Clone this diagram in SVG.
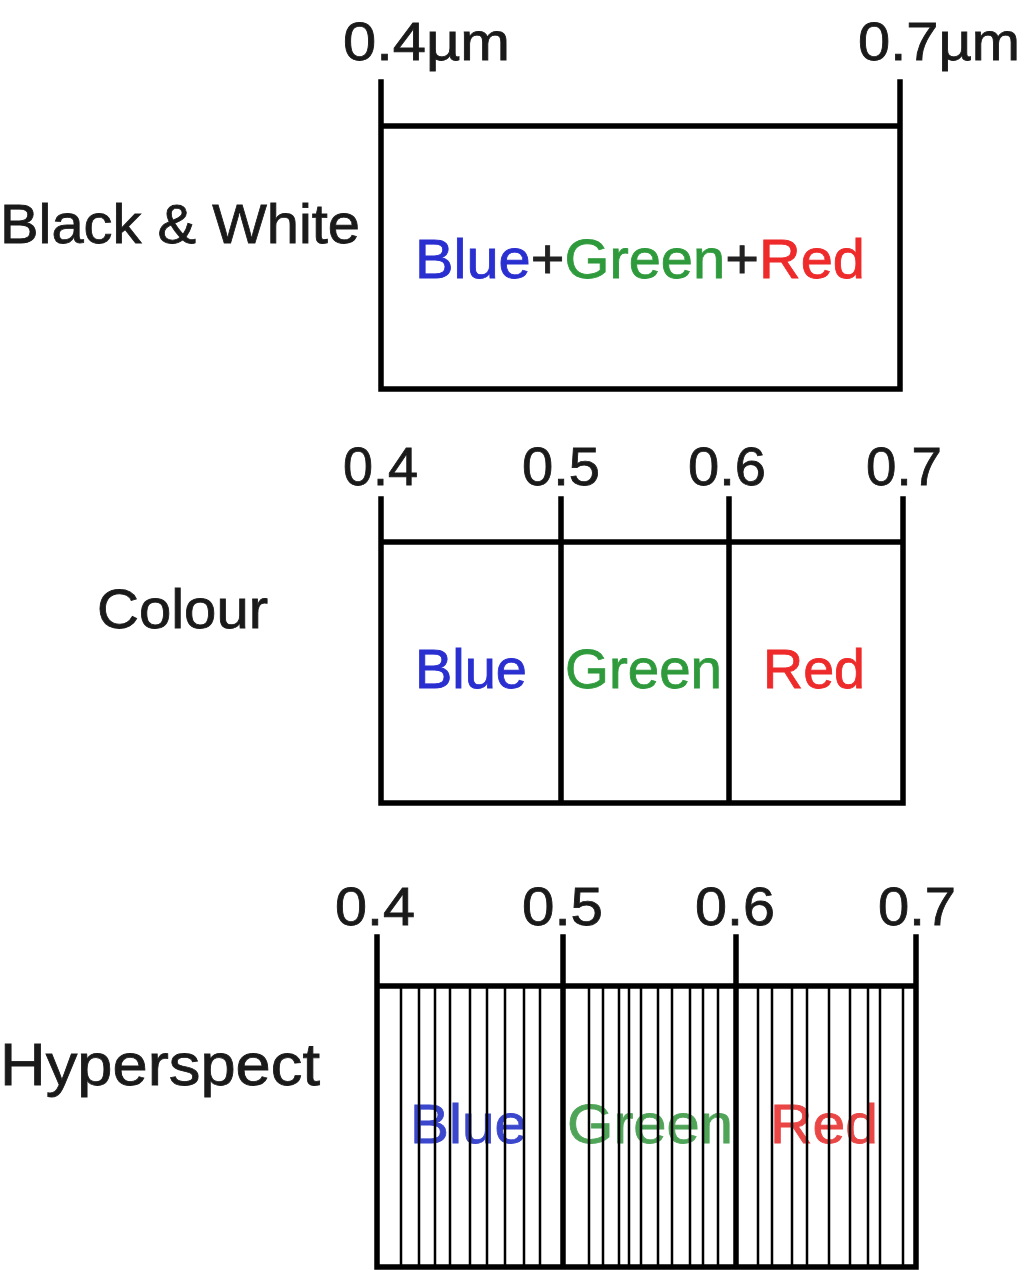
<svg xmlns="http://www.w3.org/2000/svg" width="1024" height="1270" viewBox="0 0 1024 1270">
<style>
text{font-family:"Liberation Sans",Arial,sans-serif;stroke-width:0.8;}
.lbl{font-size:55px;fill:#1a1a1a;stroke:#1a1a1a;}
.num{font-size:53px;fill:#1a1a1a;stroke:#1a1a1a;}
.b{fill:#2a2fd0;stroke:#2a2fd0;}
.g{fill:#2f9a3c;stroke:#2f9a3c;}
.r{fill:#ee2a2a;stroke:#ee2a2a;}
.p{fill:#222;stroke:#222;}
.thick{stroke:#000;stroke-width:5.5;fill:none;stroke-linecap:square;}
.thin{stroke:#000;stroke-width:2.5;fill:none;}
.band{font-size:55px;}
.hb{fill:#3b47cc;stroke:#3b47cc;}
.hg{fill:#4fa458;stroke:#4fa458;}
.hr{fill:#ea4646;stroke:#ea4646;}
</style>
<rect width="1024" height="1270" fill="#fff"/>

<g id="panel-bw">
  <text class="num" x="343" y="60" textLength="167" lengthAdjust="spacingAndGlyphs">0.4µm</text>
  <text class="num" x="858" y="60" textLength="162" lengthAdjust="spacingAndGlyphs">0.7µm</text>
  <text class="lbl" x="0" y="243" textLength="360" lengthAdjust="spacingAndGlyphs">Black &amp; White</text>
  <text class="band" x="415" y="278" textLength="450" lengthAdjust="spacingAndGlyphs"><tspan class="b">Blue</tspan><tspan class="p">+</tspan><tspan class="g">Green</tspan><tspan class="p">+</tspan><tspan class="r">Red</tspan></text>
  <path class="thick" d="M381 82V389M900 82V389M381 126H900M381 389H900"/>
</g>

<g id="panel-colour">
  <text class="num" x="343" y="485" textLength="75" lengthAdjust="spacingAndGlyphs">0.4</text>
  <text class="num" x="522" y="485" textLength="78" lengthAdjust="spacingAndGlyphs">0.5</text>
  <text class="num" x="688" y="485" textLength="78" lengthAdjust="spacingAndGlyphs">0.6</text>
  <text class="num" x="866" y="485" textLength="76" lengthAdjust="spacingAndGlyphs">0.7</text>
  <text class="lbl" x="97" y="628" textLength="171" lengthAdjust="spacingAndGlyphs">Colour</text>
  <text class="band b" x="415" y="688" textLength="112" lengthAdjust="spacingAndGlyphs">Blue</text>
  <text class="band g" x="565" y="688" textLength="157" lengthAdjust="spacingAndGlyphs">Green</text>
  <text class="band r" x="763" y="688" textLength="102" lengthAdjust="spacingAndGlyphs">Red</text>
  <path class="thick" d="M381 499V803M561 499V803M729 499V803M903 499V803M381 542H903M381 803H903"/>
</g>

<g id="panel-hyper">
  <text class="num" x="335" y="925" textLength="80" lengthAdjust="spacingAndGlyphs">0.4</text>
  <text class="num" x="522" y="925" textLength="81" lengthAdjust="spacingAndGlyphs">0.5</text>
  <text class="num" x="695" y="925" textLength="80" lengthAdjust="spacingAndGlyphs">0.6</text>
  <text class="num" x="878" y="925" textLength="78" lengthAdjust="spacingAndGlyphs">0.7</text>
  <text class="lbl" x="0" y="1085" style="font-size:59px" textLength="320" lengthAdjust="spacingAndGlyphs">Hyperspect</text>
  <text class="band hb" x="410" y="1143" textLength="117" lengthAdjust="spacingAndGlyphs">Blue</text>
  <text class="band hg" x="567" y="1143" textLength="166" lengthAdjust="spacingAndGlyphs">Green</text>
  <text class="band hr" x="770" y="1143" textLength="108" lengthAdjust="spacingAndGlyphs">Red</text>
  <path class="thin" d="M401 988V1266M419 988V1266M435 988V1266M450 988V1266M470 988V1266M487 988V1266M505 988V1266M524 988V1266M540 988V1266M589 988V1266M603 988V1266M619 988V1266M629 988V1266M641 988V1266M658 988V1266M672 988V1266M690 988V1266M703 988V1266M718 988V1266M758 988V1266M772 988V1266M792 988V1266M807 988V1266M829 988V1266M850 988V1266M868 988V1266M880 988V1266M903 988V1266"/>
  <path class="thick" d="M377 937V1267M563 937V1267M736 937V1267M916 937V1267M377 986H916M377 1267H916"/>
</g>
</svg>
